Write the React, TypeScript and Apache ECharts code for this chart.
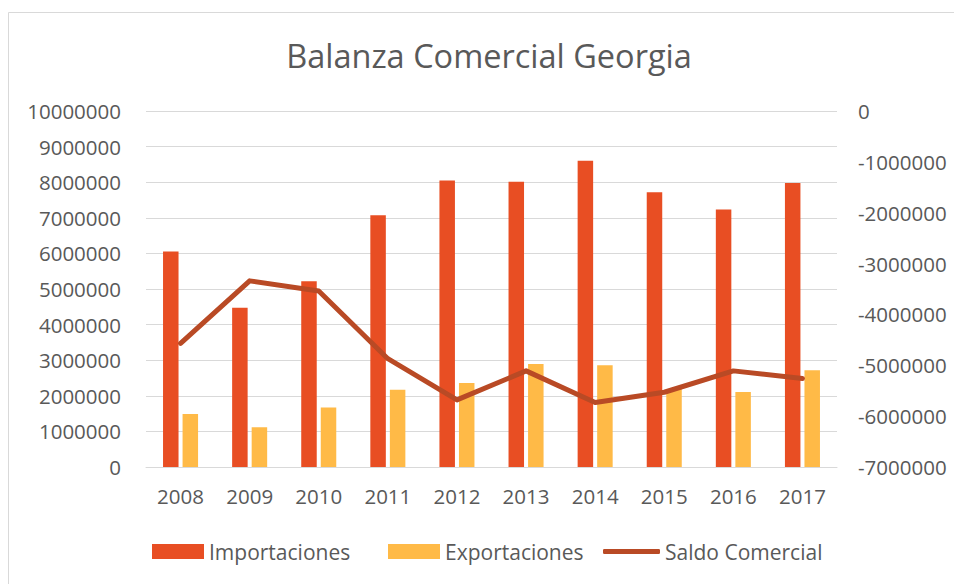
import React, { useEffect, useRef } from "react";
import * as echarts from "echarts";

const years = ["2008", "2009", "2010", "2011", "2012", "2013", "2014", "2015", "2016", "2017"];
const importaciones = [6050000, 4470000, 5220000, 7070000, 8050000, 8010000, 8600000, 7720000, 7230000, 7980000];
const exportaciones = [1490000, 1120000, 1670000, 2170000, 2360000, 2890000, 2860000, 2190000, 2110000, 2720000];
const saldo = [-4570000, -3340000, -3540000, -4870000, -5680000, -5110000, -5730000, -5530000, -5110000, -5260000];

const FONT = "'Open Sans', sans-serif";
const TXT = "#595959";
const GRID = "#D9D9D9";

export default function App() {
  const ref = useRef<HTMLDivElement>(null);
  useEffect(() => {
    if (!ref.current) return;
    const chart = echarts.init(ref.current, undefined, { renderer: "svg" });
    const legendText = { fontFamily: FONT, fontSize: 21, color: TXT };
    const plain = (v: number) => String(v);
    chart.setOption({
      animation: false,
      backgroundColor: "#ffffff",
      title: {
        text: "Balanza Comercial Georgia",
        left: 484,
        top: 34,
        textAlign: "center",
        textStyle: { fontFamily: FONT, fontSize: 32.5, fontWeight: "normal", color: TXT },
      },
      graphic: [
        {
          type: "rect",
          shape: { x: 8.5, y: 12.5, width: 980, height: 620 },
          style: { fill: "none", stroke: GRID, lineWidth: 1 },
          silent: true,
        },
      ],
      legend: [
        {
          data: [{ name: "Importaciones", icon: "rect" }],
          left: 147,
          top: 536,
          itemWidth: 52,
          itemHeight: 15,
          itemGap: 4,
          textStyle: legendText,
        },
        {
          data: [{ name: "Exportaciones", icon: "rect" }],
          left: 383,
          top: 536,
          itemWidth: 52,
          itemHeight: 15,
          textStyle: legendText,
        },
        {
          data: [{ name: "Saldo Comercial", icon: "roundRect" }],
          left: 598,
          top: 536,
          itemWidth: 57,
          itemHeight: 5,
          textStyle: legendText,
        },
      ],
      grid: { left: 146, right: 117, top: 111, bottom: 117, containLabel: false },
      xAxis: {
        type: "category",
        data: years,
        axisLine: { lineStyle: { color: GRID, width: 1 } },
        axisTick: { show: false },
        axisLabel: { fontFamily: FONT, fontSize: 20.5, color: TXT, margin: 18 },
      },
      yAxis: [
        {
          type: "value",
          min: 0,
          max: 10000000,
          interval: 1000000,
          axisLine: { show: false },
          axisTick: { show: false },
          splitLine: { lineStyle: { color: GRID, width: 1 } },
          axisLabel: { fontFamily: FONT, fontSize: 20.5, color: TXT, margin: 25, formatter: plain },
        },
        {
          type: "value",
          min: -7000000,
          max: 0,
          interval: 1000000,
          axisLine: { show: false },
          axisTick: { show: false },
          splitLine: { show: false },
          axisLabel: { fontFamily: FONT, fontSize: 20.5, color: TXT, margin: 21, formatter: plain },
        },
      ],
      series: [
        {
          name: "Importaciones",
          type: "bar",
          data: importaciones,
          barWidth: 15.5,
          barGap: "26%",
          itemStyle: { color: "#E84E23" },
        },
        {
          name: "Exportaciones",
          type: "bar",
          data: exportaciones,
          barWidth: 15.5,
          itemStyle: { color: "#FFBA47" },
        },
        {
          name: "Saldo Comercial",
          type: "line",
          yAxisIndex: 1,
          data: saldo,
          symbol: "none",
          lineStyle: { color: "#B94A25", width: 5, cap: "round", join: "round" },
          itemStyle: { color: "#B94A25" },
        },
      ],
    });
    return () => chart.dispose();
  }, []);
  return (
    <div
      ref={ref}
      style={{ position: "absolute", left: 0, top: 0, width: 954, height: 584 }}
    />
  );
}
